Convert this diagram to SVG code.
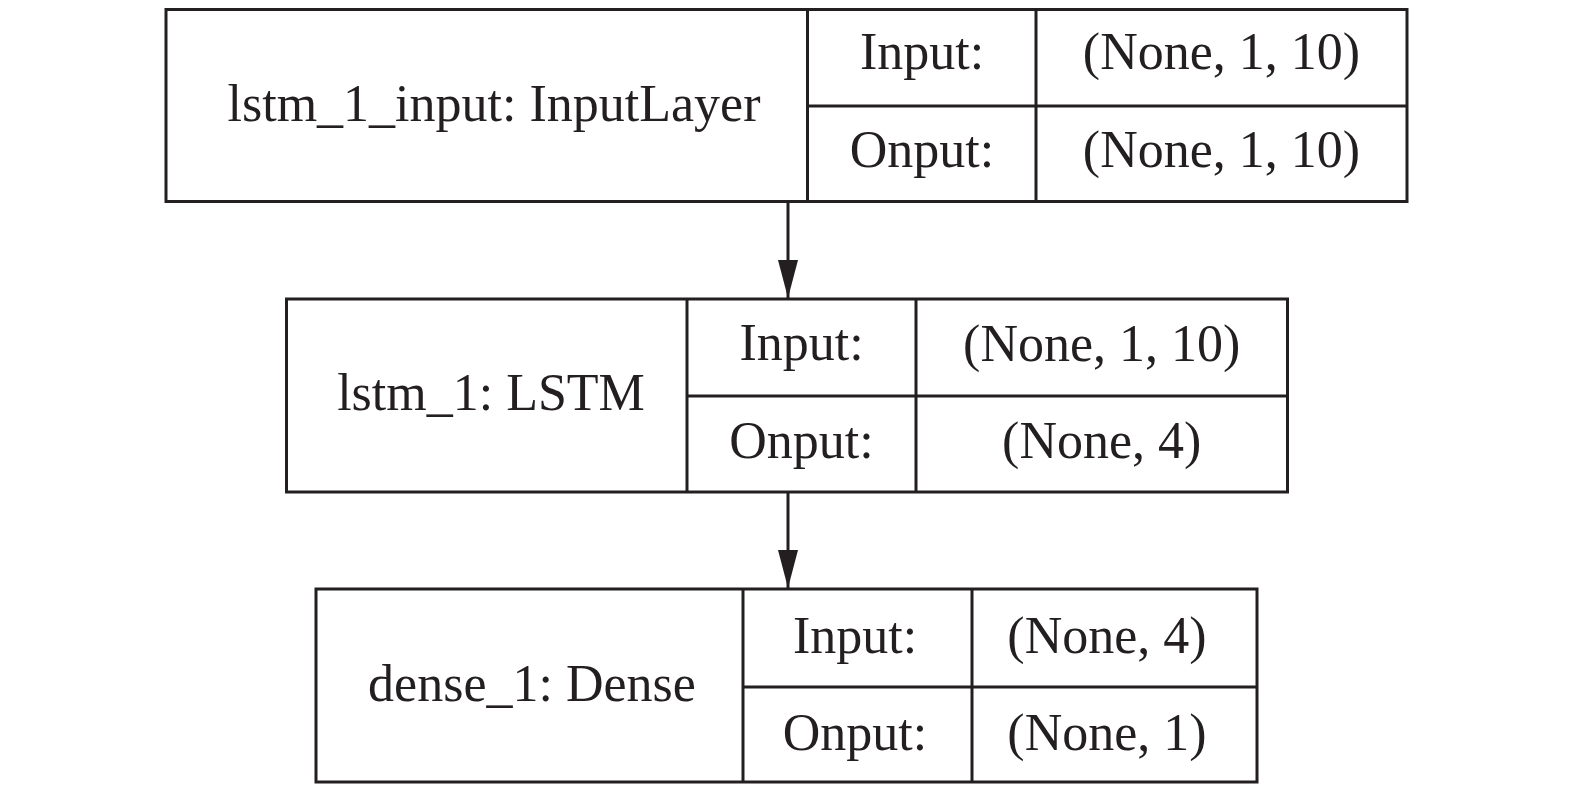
<svg xmlns="http://www.w3.org/2000/svg" width="1575" height="787" viewBox="0 0 1575 787">
<defs>
<style>
.box{fill:#fff;stroke:#231f20;stroke-width:3}
.ln{stroke:#231f20;stroke-width:3;fill:none}
text{font-family:"Liberation Serif","Times New Roman",serif;font-size:52px;fill:#231f20;text-anchor:middle}
</style>
<marker id="arr" markerUnits="userSpaceOnUse" markerWidth="38" markerHeight="20" refX="38" refY="10" orient="auto" viewBox="0 0 38 20">
<path d="M0,0 L38,10 L0,20 Z" fill="#231f20"/>
</marker>
</defs>
<rect width="1575" height="787" fill="#fff"/>
<g id="connectors">
<line class="ln" x1="788" y1="202" x2="788" y2="298" marker-end="url(#arr)"/>
<line class="ln" x1="788" y1="492" x2="788" y2="588" marker-end="url(#arr)"/>
</g>
<g id="node-input">
<rect class="box" x="166" y="9.5" width="1241" height="192"/>
<line class="ln" x1="807.5" y1="9.5" x2="807.5" y2="201.5"/>
<line class="ln" x1="1036" y1="9.5" x2="1036" y2="201.5"/>
<line class="ln" x1="807.5" y1="106" x2="1407" y2="106"/>
<text x="494" y="121">lstm_1_input: InputLayer</text>
<text x="922" y="69">Input:</text>
<text x="1221.5" y="69">(None, 1, 10)</text>
<text x="922" y="167">Onput:</text>
<text x="1221.5" y="167">(None, 1, 10)</text>
</g>
<g id="node-lstm">
<rect class="box" x="286.5" y="299" width="1001" height="193"/>
<line class="ln" x1="687" y1="299" x2="687" y2="492"/>
<line class="ln" x1="916" y1="299" x2="916" y2="492"/>
<line class="ln" x1="687" y1="396" x2="1287.5" y2="396"/>
<text x="491" y="410">lstm_1: LSTM</text>
<text x="801.5" y="360">Input:</text>
<text x="1101.7" y="361">(None, 1, 10)</text>
<text x="801.5" y="458">Onput:</text>
<text x="1101.7" y="458">(None, 4)</text>
</g>
<g id="node-dense">
<rect class="box" x="316" y="589" width="941" height="193"/>
<line class="ln" x1="743" y1="589" x2="743" y2="782"/>
<line class="ln" x1="972" y1="589" x2="972" y2="782"/>
<line class="ln" x1="743" y1="687" x2="1257" y2="687"/>
<text x="532" y="701">dense_1: Dense</text>
<text x="855" y="653">Input:</text>
<text x="1107" y="653">(None, 4)</text>
<text x="855" y="750">Onput:</text>
<text x="1107" y="750">(None, 1)</text>
</g>
</svg>
